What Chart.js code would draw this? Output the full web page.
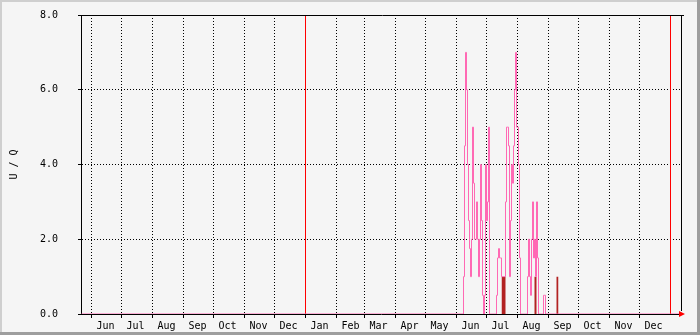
<!DOCTYPE html>
<html>
<head>
    <title>U / Q</title>
    <meta charset="UTF-8">
    <script src="https://cdn.jsdelivr.net/npm/chart.js@4.4.1/dist/chart.umd.min.js"></script>
    <style>
        body { margin: 0; background: #f5f5f5; }
        canvas { display: block; }
    </style>
</head>
<body>
    <canvas id="myChart" width="700" height="335"></canvas>

    <script>
        // x axis is in days, day 0 = left edge of the plot
        var monthNames = ['Jun', 'Jul', 'Aug', 'Sep', 'Oct', 'Nov', 'Dec',
            'Jan', 'Feb', 'Mar', 'Apr', 'May', 'Jun', 'Jul', 'Aug', 'Sep', 'Oct', 'Nov', 'Dec'];
        var monthStartDays = [10, 40, 71, 102, 132, 163, 193,
            224, 255, 283, 314, 344, 375, 405, 436, 467, 497, 528, 558];
        var rangeEnd = 600;
        var yearStartDay = 224;
        var nowDay = 589;
        var yTicks = [0, 2, 4, 6, 8];

        // pink series, one value per day starting at uqFirstDay
        var uqFirstDay = 382;
        var uqValues = [
            1.0, 4.5, 7.0, 6.0, 4.0, 2.5, 1.75, 1.0, 2.0, 5.0,
            3.5, 2.0, 2.0, 3.0, 2.0, 1.0, 2.0, 4.0, 2.5, 0.5,
            0, 0.5, 4.0, 2.5, 3.0, 5.0, 0, 0, 0, 0,
            0, 0, 0, 0.5, 1.5, 1.75, 1.5, 1.5, 1.0, 1.0,
            1.0, 1.0, 3.0, 5.0, 5.0, 4.5, 1.0, 2.5, 4.0, 3.5,
            4.5, 6.0, 7.0, 5.0, 5.0, 4.0, 1.5, 0, 0, 0,
            0, 0, 0, 0, 1.0, 2.0, 1.0, 0.5, 2.0, 3.0,
            1.5, 2.0, 1.0, 3.0, 1.5, 0, 0, 0, 0, 0,
            0.5, 0.5, 0
        ];

        // dark red blocks: [from day, to day] at errValue
        var errRanges = [[420, 424], [453, 455], [475, 477]];
        var errValue = 1.0;

        var uqData = [{x: 0, y: 0}];
        uqValues.forEach(function (v, i) {
            uqData.push({x: uqFirstDay + i, y: v});
        });
        uqData.push({x: rangeEnd, y: 0});

        var errData = [];
        errRanges.forEach(function (r) {
            errData.push({x: r[0], y: 0});
            errData.push({x: r[0], y: errValue});
            errData.push({x: r[1], y: errValue});
            errData.push({x: r[1], y: 0});
        });

        var monthMidDays = monthStartDays.map(function (d) { return d + 14; });
        var font = {family: 'DejaVu Sans Mono', size: 10};

        var framePlugin = {
            id: 'frame',
            beforeDraw: function (chart) {
                var c = chart.ctx, w = chart.width, h = chart.height;
                c.save();
                c.fillStyle = '#f5f5f5';
                c.fillRect(0, 0, w, h);
                c.fillStyle = '#cfcfcf';
                c.fillRect(0, 0, w, 2);
                c.fillRect(0, 0, 2, h);
                c.fillStyle = '#9e9e9e';
                c.fillRect(0, h - 3, w, 3);
                c.fillRect(w - 3, 0, 3, h);
                c.restore();
            },
            afterDraw: function (chart) {
                var a = chart.chartArea, c = chart.ctx;
                c.save();
                c.strokeStyle = '#000';
                c.lineWidth = 1;
                c.beginPath();
                c.moveTo(a.left, Math.round(a.top) + 0.5);
                c.lineTo(a.right + 3, Math.round(a.top) + 0.5);
                c.moveTo(Math.round(a.right) + 0.5, a.top);
                c.lineTo(Math.round(a.right) + 0.5, a.bottom - 3);
                c.stroke();
                c.fillStyle = '#ff0000';
                c.beginPath();
                c.moveTo(a.right - 2, a.bottom - 3);
                c.lineTo(a.right + 4, a.bottom);
                c.lineTo(a.right - 2, a.bottom + 3);
                c.closePath();
                c.fill();
                c.restore();
            }
        };

        var ctx = document.getElementById('myChart');
        var myChart = new Chart(ctx, {
            type: 'line',
            data: {
                datasets: [{
                    data: uqData,
                    borderColor: '#ff69b4',
                    borderWidth: 1,
                    pointRadius: 0,
                    stepped: 'before',
                    fill: false
                }, {
                    data: errData,
                    borderWidth: 0,
                    borderColor: 'rgba(0,0,0,0)',
                    backgroundColor: '#b22222',
                    pointRadius: 0,
                    fill: 'origin'
                }, {
                    data: [{x: yearStartDay, y: 0}, {x: yearStartDay, y: 8}],
                    borderColor: '#ff0000',
                    borderWidth: 1,
                    pointRadius: 0
                }, {
                    data: [{x: nowDay, y: 0}, {x: nowDay, y: 8}],
                    borderColor: '#ff0000',
                    borderWidth: 1,
                    pointRadius: 0
                }]
            },
            options: {
                responsive: false,
                animation: false,
                devicePixelRatio: 1,
                layout: {padding: {top: 15, right: 19, left: 0, bottom: 0}},
                plugins: {legend: {display: false}, tooltip: {enabled: false}},
                scales: {
                    x: {
                        type: 'linear',
                        min: -0.5,
                        max: rangeEnd - 0.5,
                        afterBuildTicks: function (axis) {
                            axis.ticks = monthStartDays.concat(monthMidDays)
                                .sort(function (a, b) { return a - b; })
                                .map(function (v) { return {value: v}; });
                        },
                        afterFit: function (axis) {
                            axis.height = 21;
                            axis.paddingLeft = 0;
                            axis.paddingRight = 0;
                        },
                        ticks: {
                            autoSkip: false,
                            maxRotation: 0,
                            padding: 2,
                            color: '#000',
                            font: font,
                            callback: function (v) {
                                var i = monthMidDays.indexOf(v);
                                return i >= 0 ? monthNames[i] : '';
                            }
                        },
                        grid: {
                            color: function (c) {
                                return monthStartDays.indexOf(c.tick.value) >= 0 ? '#000' : 'rgba(0,0,0,0)';
                            },
                            tickColor: function (c) {
                                return monthStartDays.indexOf(c.tick.value) >= 0 ? '#000' : 'rgba(0,0,0,0)';
                            },
                            tickLength: 4,
                            lineWidth: 1
                        },
                        border: {color: '#000', width: 1, dash: [1, 2]}
                    },
                    y: {
                        min: 0,
                        max: 8,
                        afterBuildTicks: function (axis) {
                            axis.ticks = yTicks.map(function (v) { return {value: v}; });
                        },
                        afterFit: function (axis) {
                            axis.width = 81;
                            axis.paddingTop = 0;
                            axis.paddingBottom = 0;
                        },
                        ticks: {
                            padding: 20,
                            color: '#000',
                            font: font,
                            callback: function (v) { return v.toFixed(1); }
                        },
                        grid: {
                            color: function (c) {
                                var v = c.tick.value;
                                return (v > 0 && v < 8) ? '#000' : 'rgba(0,0,0,0)';
                            },
                            tickColor: '#000',
                            tickLength: 3,
                            lineWidth: 1
                        },
                        border: {color: '#000', width: 1, dash: [1, 2]},
                        title: {
                            display: true,
                            text: 'U / Q',
                            color: '#000',
                            font: font,
                            padding: {top: 8, bottom: 0}
                        }
                    }
                }
            },
            plugins: [framePlugin]
        });
    </script>
</body>
</html>
